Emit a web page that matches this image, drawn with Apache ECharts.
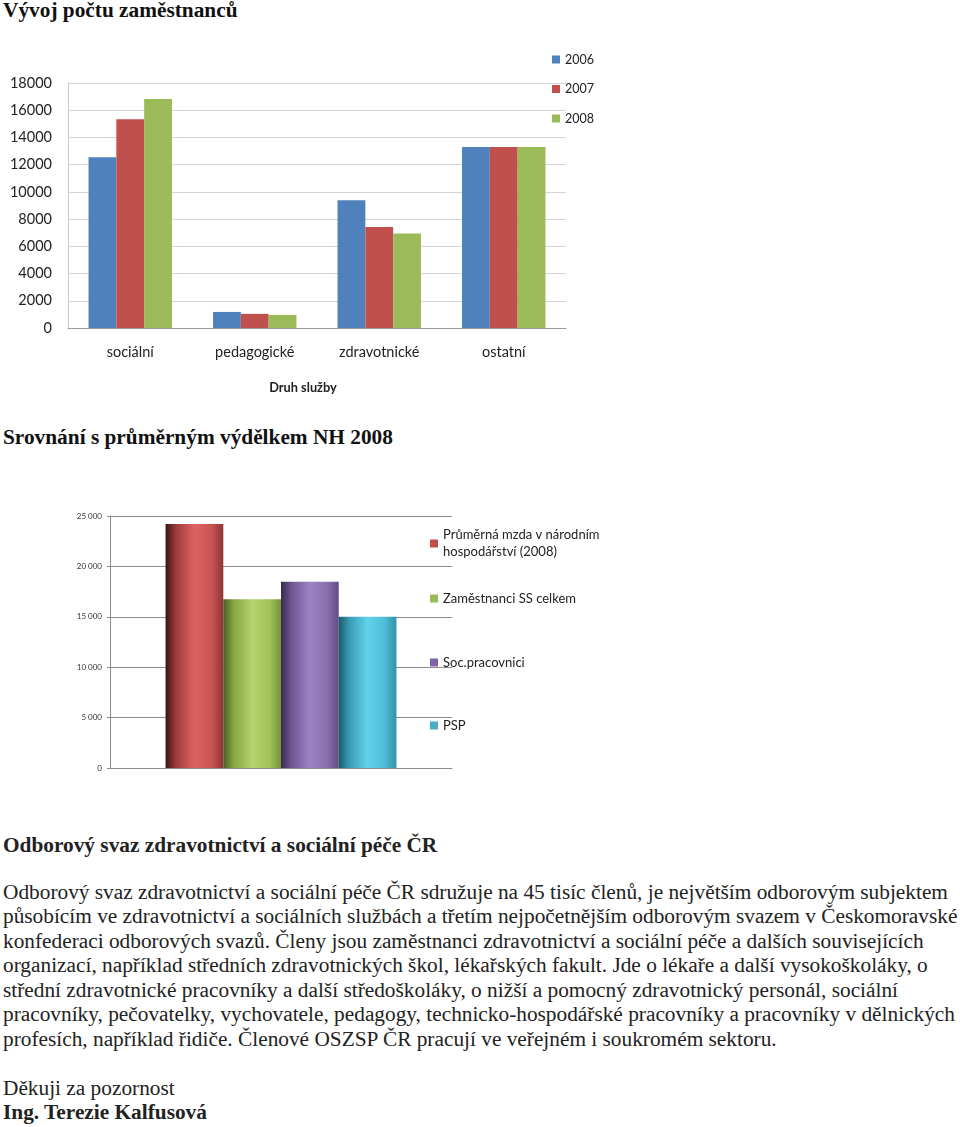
<!DOCTYPE html>
<html><head><meta charset="utf-8">
<script src="https://cdn.jsdelivr.net/npm/echarts@6/dist/echarts.min.js"></script>
<style>
html,body{margin:0;padding:0;background:#fff;width:960px;height:1127px;overflow:hidden;position:relative}
.t{position:absolute;left:3px;font-family:"Liberation Serif","Times New Roman",serif;color:#111;white-space:nowrap;transform:scaleX(1.066);transform-origin:0 0}
.b{font-weight:bold;font-size:20px;line-height:24px}
.p{font-size:20px;line-height:24.5px;color:#222}
#c1{position:absolute;left:0;top:0;width:620px;height:420px}
#c2{position:absolute;left:0;top:480px;width:640px;height:320px}
</style></head><body>
<div class="t b" style="top:-2px">Vývoj počtu zaměstnanců</div>
<div id="c1"></div>
<div class="t b" style="top:425px">Srovnání s průměrným výdělkem NH 2008</div>
<div id="c2"></div>
<div class="t b" style="top:833px;color:#222">Odborový svaz zdravotnictví a sociální péče ČR</div>
<div class="t p" style="top:879.5px">Odborový svaz zdravotnictví a sociální péče ČR sdružuje na 45 tisíc členů, je největším odborovým subjektem<br>působícím ve zdravotnictví a sociálních službách a třetím nejpočetnějším odborovým svazem v Českomoravské<br>konfederaci odborových svazů. Členy jsou zaměstnanci zdravotnictví a sociální péče a dalších souvisejících<br>organizací, například středních zdravotnických škol, lékařských fakult. Jde o lékaře a další vysokoškoláky, o<br>střední zdravotnické pracovníky a další středoškoláky, o nižší a pomocný zdravotnický personál, sociální<br>pracovníky, pečovatelky, vychovatele, pedagogy, technicko-hospodářské pracovníky a pracovníky v dělnických<br>profesích, například řidiče. Členové OSZSP ČR pracují ve veřejném i soukromém sektoru.</div>
<div class="t p" style="top:1075.5px">Děkuji za pozornost</div>
<div class="t b" style="top:1100px;color:#222">Ing. Terezie Kalfusová</div>
<script>
// ---- Chart 1 data ----
const categories1 = ['sociální', 'pedagogické', 'zdravotnické', 'ostatní'];
const years = ['2006', '2007', '2008'];
const values2006 = [12550, 1180, 9390, 13300];
const values2007 = [15330, 1040, 7420, 13300];
const values2008 = [16820, 960, 6950, 13300];
const yearColors = ['#4f81bd', '#c0504d', '#9bbb59'];

// ---- Chart 2 data ----
const series2Names = ['Průměrná mzda v národním\nhospodářství (2008)', 'Zaměstnanci SS celkem', 'Soc.pracovnici', 'PSP'];
const series2Values = [24200, 16750, 18480, 15000];
const series2Colors = ['#c0504d', '#9bbb59', '#8064a2', '#4bacc6'];
const grad2 = [
  ['#3c1414', '#9c3a3a', '#de6262', '#c85454', '#8e3434'],
  ['#4a5e22', '#86a646', '#b4d46c', '#a2c25c', '#76943a'],
  ['#3a2c52', '#6c5690', '#9c82c4', '#8a70b0', '#624c84'],
  ['#1c5a6a', '#3a9ab4', '#62d2ec', '#50bcd6', '#3490a8']
];

const lab = 'Lato, "Open Sans", sans-serif';

const c1 = echarts.init(document.getElementById('c1'), null, {renderer: 'canvas'});
const vals1 = [values2006, values2007, values2008];
c1.setOption({
  animation: false,
  textStyle: {fontFamily: lab},
  grid: {left: 68, top: 83, width: 498, height: 245},
  legend: {
    orient: 'vertical', left: 547, top: 48, itemWidth: 8, itemHeight: 8, itemGap: 16.5,
    icon: 'rect', textStyle: {fontSize: 12.5, color: '#222', fontFamily: lab},
    data: years
  },
  xAxis: {
    type: 'category', data: categories1,
    axisLine: {lineStyle: {color: '#9a9a9a'}},
    axisTick: {length: 5, lineStyle: {color: '#9a9a9a'}},
    axisLabel: {margin: 17, fontSize: 14.5, color: '#222', fontFamily: lab},
    name: 'Druh služby', nameLocation: 'middle', nameGap: 53,
    nameTextStyle: {fontSize: 12.8, fontWeight: 'bold', color: '#222', fontFamily: lab, padding: [0, 28, 0, 0]}
  },
  yAxis: {
    type: 'value', min: 0, max: 18000, interval: 2000,
    axisLine: {show: true, lineStyle: {color: '#c8c8c8'}},
    axisTick: {show: false},
    splitLine: {lineStyle: {color: '#d4d4d4'}},
    axisLabel: {margin: 16, fontSize: 14.5, color: '#222', fontFamily: lab, formatter: v => String(v)}
  },
  series: years.map((y, i) => ({
    name: y, type: 'bar', data: vals1[i], barGap: '0%', barCategoryGap: '33%',
    itemStyle: {color: yearColors[i]}
  }))
});

const c2 = echarts.init(document.getElementById('c2'), null, {renderer: 'canvas'});
const legendTops = [513, 585, 649, 712];
c2.setOption({
  animation: false,
  textStyle: {fontFamily: lab},
  grid: {left: 110, top: 36, width: 342, height: 252},
  legend: series2Names.map((n, i) => ({
    orient: 'vertical', left: 425, top: legendTops[i] - 480, itemWidth: 8, itemHeight: 8,
    icon: 'rect',
    textStyle: {fontSize: 13, color: '#222', fontFamily: lab, lineHeight: 17, padding: i === 0 ? [17, 0, 0, 0] : 0},
    data: [{name: n, itemStyle: {color: series2Colors[i]}}]
  })),
  xAxis: {
    type: 'category', data: [''],
    axisLine: {lineStyle: {color: '#8c8c8c'}},
    axisTick: {show: false}, axisLabel: {show: false}
  },
  yAxis: {
    type: 'value', min: 0, max: 25000, interval: 5000,
    axisLine: {show: true, lineStyle: {color: '#8c8c8c'}},
    axisTick: {show: true, length: 3, lineStyle: {color: '#8c8c8c'}},
    splitLine: {lineStyle: {color: '#8c8c8c'}},
    axisLabel: {margin: 8, fontSize: 8, color: '#333', fontFamily: lab,
      formatter: v => v >= 1000 ? Math.floor(v / 1000) + ' ' + String(v % 1000).padStart(3, '0') : String(v)}
  },
  series: series2Names.map((n, i) => ({
    name: n, type: 'bar', data: [series2Values[i]], barGap: '0%', barCategoryGap: '32.5%',
    itemStyle: {color: {type: 'linear', x: 0, y: 0, x2: 1, y2: 0, colorStops: [
      {offset: 0, color: grad2[i][0]}, {offset: 0.18, color: grad2[i][1]},
      {offset: 0.5, color: grad2[i][2]}, {offset: 0.8, color: grad2[i][3]}, {offset: 1, color: grad2[i][4]}
    ]}}
  }))
});
</script>
</body></html>
